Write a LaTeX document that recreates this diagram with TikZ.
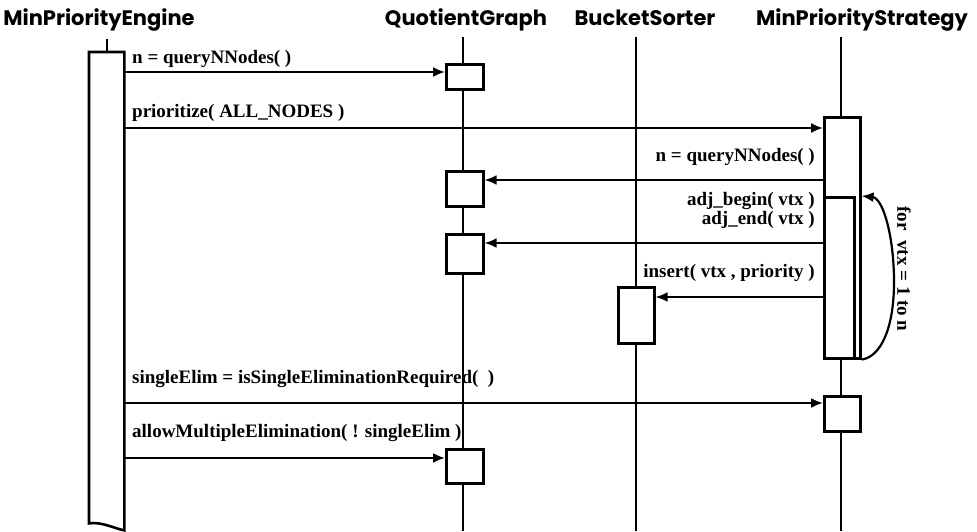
\documentclass[tikz,border=0pt]{standalone}
\usepackage{fontspec}
\setmainfont{Liberation Serif}
\newfontfamily\hdrfont{Poppins}
\usetikzlibrary{arrows.meta}

\begin{document}
\begin{tikzpicture}[x=1pt,y=-1pt,
  hdr/.style={font=\hdrfont\bfseries\fontsize{21}{24}\selectfont, anchor=base, inner sep=0},
  msg/.style={font=\bfseries\fontsize{19}{22}\selectfont, inner sep=0, anchor=base west},
  msgr/.style={msg, anchor=base east},
  life/.style={line width=1.9pt},
  act/.style={draw, line width=2.6pt, fill=white, inner sep=0, anchor=north west},
  call/.style={line width=2.2pt, -{Latex[length=12pt,width=10pt]}},
]
\useasboundingbox (0,0) rectangle (977,532);

% object headers
\node[hdr] (hEng) at (99,26) {MinPriorityEngine};
\node[hdr] (hQG)  at (466,26) {QuotientGraph};
\node[hdr] (hBS)  at (645,26) {BucketSorter};
\node[hdr] (hMPS) at (862,26) {MinPriorityStrategy};

% lifelines
\coordinate (eTop) at (107,39);
\coordinate (qTop) at (463,37);  \coordinate (qBot) at (463,531);
\coordinate (bTop) at (636,37);  \coordinate (bBot) at (636,531);
\coordinate (sTop) at (841,37);  \coordinate (sBot) at (841,531);
\draw[life] (qTop) -- (qBot);
\draw[life] (bTop) -- (bBot);
\draw[life] (sTop) -- (sBot);

% engine activation with torn lower end
\node[inner sep=0, minimum width=35pt, minimum height=478pt, anchor=north west] (eng) at (89,52) {};
\draw[life] (eTop) -- (eng.north -| eTop);
\draw[line width=2.6pt, fill=white]
  ([yshift=7pt]eng.south west) -- (eng.north west) -- (eng.north east) -- (eng.south east)
  .. controls ([xshift=-10pt,yshift=2pt]eng.south east) and ([xshift=12pt,yshift=9pt]eng.south west)
  .. ([yshift=7pt]eng.south west) -- cycle;

% activations
\node[act, minimum width=37pt, minimum height=25pt] (q1) at (445,63) {};
\node[act, minimum width=37pt, minimum height=35pt] (q2) at (445,170) {};
\node[act, minimum width=37pt, minimum height=39pt] (q3) at (445,233) {};
\node[act, minimum width=37pt, minimum height=34pt] (q4) at (445,448) {};
\node[act, minimum width=36pt, minimum height=56pt] (b1) at (617,286) {};
\node[act, minimum width=36pt, minimum height=241pt] (s1) at (823,116) {};
\node[act, minimum width=30pt, minimum height=161pt] (s1i) at (823,196) {};
\node[act, minimum width=36pt, minimum height=35pt] (s2) at (823,395) {};

% messages
\draw[call] (eng.east |- {(0,72)}) -- (q1.west |- {(0,72)});
\node[msg] (m1) at (132,64) {n = queryNNodes( )};

\draw[call] (eng.east |- {(0,128)}) -- (s1.west |- {(0,128)});
\node[msg] (m2) at (132,118) {prioritize( ALL\_NODES )};

\draw[call] (s1.west |- {(0,180)}) -- (q2.east |- {(0,180)});
\node[msgr] (m3) at (815,161) {n = queryNNodes( )};

\draw[call] (s1.west |- {(0,243)}) -- (q3.east |- {(0,243)});
\node[msgr] (m4a) at (815,205) {adj\_begin( vtx )};
\node[msgr] (m4b) at (815,224) {adj\_end( vtx )};

\draw[call] (s1.west |- {(0,297)}) -- (b1.east |- {(0,297)});
\node[msgr] (m5) at (815,277) {insert( vtx , priority )};

\draw[call] (eng.east |- {(0,403)}) -- (s2.west |- {(0,403)});
\node[msg] (m6) at (132,383) {singleElim = isSingleEliminationRequired(\ \ )};

\draw[call] (eng.east |- {(0,458)}) -- (q4.west |- {(0,458)});
\node[msg] (m7) at (132,437) {allowMultipleElimination( ! singleElim )};

% iteration loop on the strategy
\draw[call] (s1.south east) .. controls (880,357) and (894,330) .. (894,282)
  .. controls (894,236) and (883,198) .. (s1.east |- s1i.north);
\node[font=\bfseries\fontsize{19}{22}\selectfont, rotate=-90, inner sep=0] (loop) at (904,269) {for\ \ vtx = 1 to n};
\end{tikzpicture}
\end{document}
